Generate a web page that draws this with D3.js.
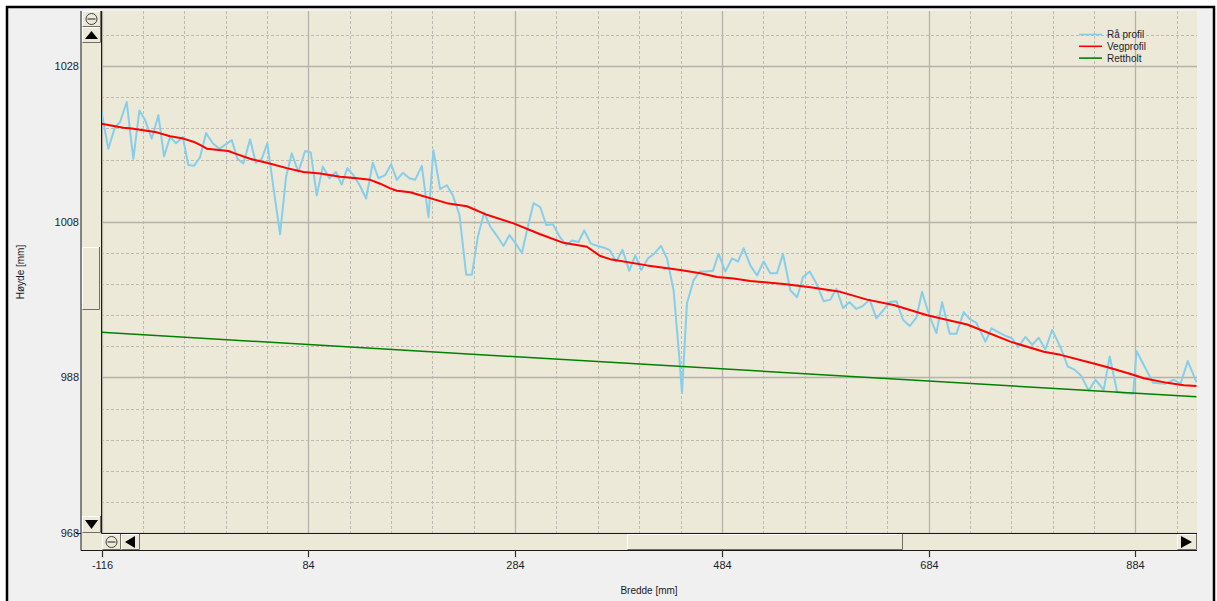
<!DOCTYPE html>
<html lang="no">
<head>
<meta charset="UTF-8">
<title>Profil</title>
<script src="https://d3js.org/d3.v7.min.js"></script>
<style>
    body { margin: 0; background: #ffffff; }
    svg { display: block; }
    .tick_text { font-family: "Liberation Sans", Arial, sans-serif; font-size: 11px; fill: #1e1e28; }
    .axis_title { font-family: "Liberation Sans", Arial, sans-serif; font-size: 10px; fill: #201820; }
    .legend_text { font-family: "Liberation Sans", Arial, sans-serif; font-size: 10px; fill: #1e1e28; }
</style>
</head>
<body>
<svg width="1217" height="601"></svg>

<script>
    // Raa profil (raw measurements), bredde [mm] / hoyde [mm]
    const rawX = [-116, -109.4, -102.9, -98.1, -91.6, -85.2, -79.4, -73.9, -67.4, -61.0, -55.5, -49.7, -43.9, -37.4,
        -32.0, -26.5, -20.7, -14.9, -8.4, -2.0, 3.5, 10.0, 15.4, 21.2, 27.7, 33.2, 39.0, 44.4, 50.2, 56.7, 62.5,
        68.0, 74.4, 80.9, 86.4, 92.2, 98.0, 104.4, 110.6, 116.4, 121.8, 127.6, 134.1, 139.9, 146.4, 151.8, 158.3,
        164.1, 169.6, 175.4, 181.8, 187.3, 193.8, 200.2, 205.0, 211.5, 218.0, 223.8, 230.2, 236.7, 242.2, 248.0,
        254.1, 259.9, 266.4, 272.8, 278.6, 285.1, 290.6, 296.4, 301.8, 308.3, 314.1, 320.6, 327.0, 333.4, 339.0,
        345.3, 350.9, 357.3, 363.7, 369.5, 375.3, 381.8, 387.9, 394.4, 400.2, 406.0, 412.5, 418.6, 425.1, 430.9,
        437.3, 442.8, 445.4, 450.2, 456.6, 462.4, 468.9, 475.4, 480.8, 487.3, 493.8, 499.6, 505.0, 511.5, 518.0,
        524.4, 530.8, 537.3, 543.1, 550.2, 556.7, 562.5, 568.9, 575.3, 582.4, 588.9, 594.7, 601.2, 607.3, 614.0,
        620.5, 626.9, 633.4, 639.9, 646.3, 652.8, 659.2, 665.6, 672.1, 677.6, 685.0, 691.5, 697.0, 704.3, 710.8,
        717.9, 723.7, 730.2, 738.9, 744.7, 757.3, 764.7, 770.5, 777.6, 784.1, 790.4, 796.9, 803.4, 811.4, 818.5,
        825.0, 831.5, 838.8, 845.3, 853.3, 859.1, 866.3, 872.7, 881.8, 885.0, 892.0, 901.1, 913.0, 921.1, 927.6,
        934.6, 943.0];
    const rawY = [1022.1, 1017.4, 1020.2, 1020.8, 1023.4, 1016.1, 1022.3, 1021.1, 1018.7, 1021.7, 1016.4, 1018.9,
        1018.1, 1018.9, 1015.3, 1015.2, 1016.3, 1019.4, 1018.1, 1017.4, 1017.9, 1018.5, 1016.1, 1015.5, 1018.6,
        1015.6, 1016.1, 1018.1, 1012.5, 1006.4, 1013.8, 1016.8, 1014.4, 1017.1, 1016.9, 1011.4, 1015.1, 1013.6,
        1014.4, 1012.8, 1014.9, 1014.0, 1012.6, 1011.0, 1015.6, 1013.6, 1014.0, 1015.4, 1013.4, 1014.3, 1013.6,
        1013.4, 1015.2, 1008.6, 1017.2, 1012.2, 1012.7, 1011.4, 1008.9, 1001.2, 1001.2, 1006.1, 1009.2, 1007.4,
        1006.2, 1004.9, 1006.3, 1005.1, 1004.0, 1007.4, 1010.4, 1009.9, 1007.6, 1007.7, 1006.1, 1005.0, 1005.6,
        1005.4, 1006.9, 1005.2, 1004.9, 1004.7, 1004.4, 1002.9, 1004.4, 1001.7, 1003.7, 1001.8, 1003.3, 1003.9,
        1004.9, 1003.3, 999.2, 990.6, 986.0, 997.5, 1000.5, 1001.6, 1001.6, 1001.7, 1003.9, 1001.6, 1003.3,
        1002.9, 1004.6, 1002.4, 1001.1, 1002.9, 1001.4, 1001.4, 1003.9, 999.2, 998.3, 1000.9, 1001.6, 1000.1,
        997.8, 998.0, 999.4, 996.9, 997.7, 996.8, 997.2, 998.0, 995.6, 996.6, 997.7, 997.8, 995.4, 994.6, 995.7,
        999.0, 995.8, 993.7, 997.7, 993.6, 993.6, 996.4, 995.5, 995.0, 992.6, 994.3, 993.4, 993.0, 991.9, 993.2,
        992.2, 993.1, 991.6, 994.1, 991.9, 989.4, 989.0, 988.2, 986.3, 987.7, 986.4, 990.7, 986.1, 986.0, 985.9,
        991.4, 989.6, 987.3, 987.2, 987.7, 987.2, 990.1, 987.4];

    // Vegprofil (smoothed road profile)
    const vegX = [-116, -94.9, -86.8, -62.6, -49.7, -36.9, -27.2, -20.7, -14.2, 6.7, 14.8, 27.7, 43.8, 63.2, 79.3,
        95.4, 114.8, 130.9, 143.8, 153.5, 163.2, 169.6, 182.5, 218.0, 237.4, 256.7, 282.5, 308.3, 330.8, 353.5,
        366.3, 376.0, 411.5, 443.7, 463.1, 479.3, 495.3, 511.5, 543.7, 569.5, 598.6, 624.4, 650.1, 682.5, 721.2,
        763.0, 795.3, 811.4, 843.6, 859.8, 882.4, 892.0, 914.7, 930.7, 943.0];
    const vegY = [1020.6, 1020.1, 1020.0, 1019.5, 1019.0, 1018.7, 1018.3, 1017.9, 1017.4, 1017.1, 1016.7, 1016.1,
        1015.6, 1014.9, 1014.4, 1014.2, 1013.8, 1013.6, 1013.4, 1012.9, 1012.3, 1012.0, 1011.8, 1010.4, 1010.0,
        1008.9, 1007.8, 1006.4, 1005.3, 1004.8, 1003.6, 1003.2, 1002.4, 1001.8, 1001.4, 1000.9, 1000.7, 1000.4,
        1000.0, 999.6, 999.0, 998.0, 997.3, 996.0, 994.8, 992.6, 991.3, 990.9, 989.8, 989.2, 988.3, 987.9, 987.3,
        987.0, 986.9];

    // Rettholt (straight line)
    const rettX = [-116, 943.0];
    const rettY = [993.8, 985.5];

    const xTicks = [-116, 84, 284, 484, 684, 884];
    const yTicks = [968, 988, 1008, 1028];

    const series = [
        {name: "Rå profil", xs: rawX, ys: rawY, color: "#87ceeb", width: 2},
        {name: "Vegprofil", xs: vegX, ys: vegY, color: "#ff0000", width: 2},
        {name: "Rettholt", xs: rettX, ys: rettY, color: "#008000", width: 1.5}
    ];

    let svg = d3.select("svg");
    const pLeft = 101, pRight = 1197, pTop = 11, pBottom = 533;
    const beige = "#ece9d8";

    let x = d3.scaleLinear().domain([-116, 943.5]).range([pLeft + 0.5, pRight]);
    let y = d3.scaleLinear().domain([968, 1035.1]).range([pBottom, pTop]);

    // outer frame
    svg.append("rect").attr("x", 7).attr("y", 7).attr("width", 1207).attr("height", 610)
        .attr("fill", "#f0f0f0").attr("stroke", "#000").attr("stroke-width", 2.5);

    // plot background
    svg.append("rect").attr("x", pLeft).attr("y", pTop).attr("width", pRight - pLeft).attr("height", pBottom - pTop)
        .attr("fill", beige);

    // grid - minor dashed, major solid
    let grid = svg.append("g");
    let vx = d3.range(-116, 944, 40);
    grid.selectAll(".vg").data(vx).enter().append("line")
        .attr("x1", d => Math.round(x(d)) + 0.5).attr("x2", d => Math.round(x(d)) + 0.5)
        .attr("y1", pTop).attr("y2", pBottom)
        .attr("stroke", d => (d + 116) % 200 === 0 ? "#b4b2aa" : "#bdbab0")
        .attr("stroke-width", d => (d + 116) % 200 === 0 ? 1.3 : 1)
        .attr("stroke-dasharray", d => (d + 116) % 200 === 0 ? null : "3,2");
    let hy = d3.range(968, 1035, 4);
    grid.selectAll(".hg").data(hy).enter().append("line")
        .attr("x1", pLeft).attr("x2", pRight)
        .attr("y1", d => Math.round(y(d)) + 0.5).attr("y2", d => Math.round(y(d)) + 0.5)
        .attr("stroke", d => (d - 968) % 20 === 0 ? "#b4b2aa" : "#bdbab0")
        .attr("stroke-width", d => (d - 968) % 20 === 0 ? 1.3 : 1)
        .attr("stroke-dasharray", d => (d - 968) % 20 === 0 ? null : "3,2");

    // lines
    svg.append("clipPath").attr("id", "clip").append("rect")
        .attr("x", pLeft).attr("y", pTop).attr("width", pRight - pLeft).attr("height", pBottom - pTop);
    let line = d3.line().x(d => x(d[0])).y(d => y(d[1]));
    svg.append("g").attr("clip-path", "url(#clip)")
        .selectAll("path").data(series).enter().append("path")
        .attr("d", s => line(s.xs.map((v, i) => [v, s.ys[i]])))
        .attr("fill", "none")
        .attr("stroke", s => s.color)
        .attr("stroke-width", s => s.width)
        .attr("stroke-linejoin", "round");

    // legend
    let legend = svg.append("g").selectAll("g").data(series).enter().append("g")
        .attr("transform", (d, i) => "translate(1079," + (34.5 + i * 11.8) + ")");
    legend.append("line").attr("x1", 0).attr("x2", 23).attr("y1", 0).attr("y2", 0)
        .attr("stroke", d => d.color).attr("stroke-width", 1.6);
    legend.append("text").attr("class", "legend_text").attr("x", 28).attr("y", 3.6).text(d => d.name);

    // scrollbar helpers
    function button(bx, by, w, h) {
        svg.append("rect").attr("x", bx).attr("y", by).attr("width", w).attr("height", h).attr("fill", beige);
        svg.append("path").attr("d", `M${bx + 0.5},${by + h - 1}V${by + 0.5}H${bx + w - 1}`)
            .attr("fill", "none").attr("stroke", "#ffffff");
        svg.append("path").attr("d", `M${bx + 0.5},${by + h - 0.5}H${bx + w - 0.5}V${by}`)
            .attr("fill", "none").attr("stroke", "#716f64");
    }
    function minus(cx, cy) {
        svg.append("circle").attr("cx", cx).attr("cy", cy).attr("r", 5.5)
            .attr("fill", "none").attr("stroke", "#404040").attr("stroke-width", 1);
        svg.append("line").attr("x1", cx - 4).attr("x2", cx + 4).attr("y1", cy).attr("y2", cy)
            .attr("stroke", "#404040").attr("stroke-width", 1.2);
    }
    function tri(pts) {
        svg.append("path").attr("d", "M" + pts.join("L") + "Z").attr("fill", "#000");
    }

    // vertical scrollbar
    svg.append("rect").attr("x", 81).attr("y", pTop).attr("width", 20).attr("height", pBottom - pTop + 17)
        .attr("fill", beige);
    button(82, 11, 19, 16); minus(91.5, 19);
    button(82, 27, 19, 16); tri([[85, 39], [98, 39], [91.5, 31]]);
    button(82, 516, 19, 17); tri([[85, 520], [98, 520], [91.5, 529]]);
    button(82, 247, 18, 63);

    // horizontal scrollbar
    svg.append("rect").attr("x", pLeft).attr("y", pBottom).attr("width", pRight - pLeft).attr("height", 17)
        .attr("fill", beige);
    button(102, 534, 19, 16); minus(111.5, 542);
    button(121, 534, 19, 16); tri([[125, 542], [135, 536], [135, 548]]);
    button(627, 534, 276, 16);
    button(1177, 534, 20, 16); tri([[1181, 536], [1181, 548], [1192, 542]]);

    // borders of scroll areas / axes
    svg.append("path").attr("d", `M81,${pTop}V550.5H${pRight}`).attr("fill", "none").attr("stroke", "#1a1a1a");
    svg.append("path").attr("d", `M${pLeft + 0.5},${pTop}V${pBottom + 0.5}H${pRight}`)
        .attr("fill", "none").attr("stroke", "#1a1a1a");
    svg.append("line").attr("x1", 76).attr("x2", 81).attr("y1", pBottom + 0.5).attr("y2", pBottom + 0.5)
        .attr("stroke", "#1a1a1a");

    // x ticks + labels
    let xt = svg.append("g").selectAll("g").data(xTicks).enter().append("g")
        .attr("transform", d => "translate(" + (Math.round(x(d)) + 0.5) + ",0)");
    xt.append("line").attr("y1", 550).attr("y2", 557).attr("stroke", "#303030").attr("stroke-width", 1.2);
    xt.append("text").attr("class", "tick_text").attr("y", 569).attr("text-anchor", "middle").text(d => d);

    // y labels
    svg.append("g").selectAll("text").data(yTicks).enter().append("text")
        .attr("class", "tick_text").attr("x", 79).attr("y", d => y(d) + 4)
        .attr("text-anchor", "end").text(d => d);

    // axis titles
    svg.append("text").attr("class", "axis_title").attr("x", 649).attr("y", 594)
        .attr("text-anchor", "middle").text("Bredde [mm]");
    svg.append("text").attr("class", "axis_title").attr("text-anchor", "middle")
        .attr("transform", "translate(24,272) rotate(-90)").text("Høyde [mm]");
</script>
</body>
</html>
